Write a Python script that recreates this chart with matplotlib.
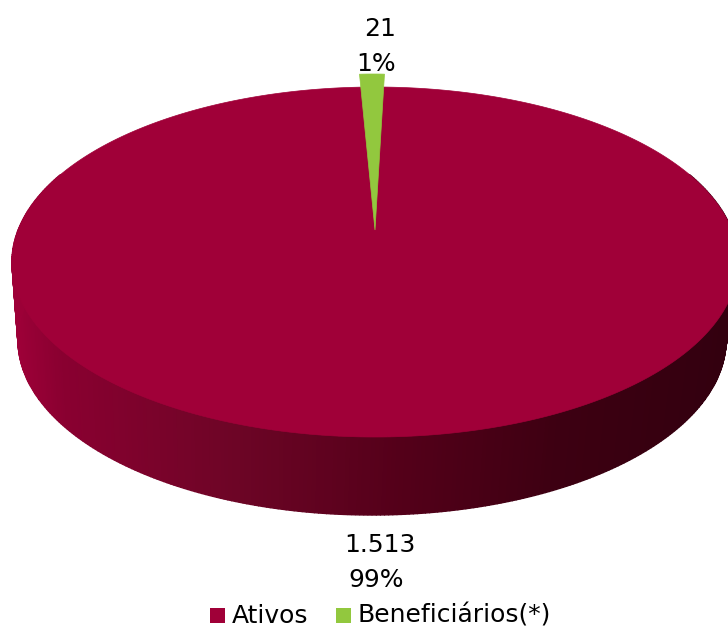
import numpy as np
import matplotlib
matplotlib.use('Agg')
import matplotlib.pyplot as plt
from matplotlib.patches import Rectangle, Polygon

plt.rcParams['font.family'] = ['DejaVu Sans']

# Dados
categorias = ['Ativos', 'Beneficiários(*)']
valores = [1513, 21]
rotulos_valor = ['1.513', '21']
rotulos_pct = ['99%', '1%']
cores = ['#A00038', '#92C83E']

# geometria do disco em pixels
cx, cy = 375, 262
a, b = 363, 175
cx2, cy2, a2, b2 = 372, 340, 354, 175  # base, um pouco menor (perspectiva)
apice = (375, 230)
explode_verde = 13
estreita_verde = 0.8

fig = plt.figure(figsize=(7.28, 6.28), dpi=100)
ax = fig.add_axes([0, 0, 1, 1])
ax.set_xlim(0, 728)
ax.set_ylim(628, 0)
ax.axis('off')


def borda(t):
    # t em graus, sentido horario a partir do topo
    t = np.radians(t)
    return cx + a * np.sin(t), cy - b * np.cos(t)


def base(t):
    t = np.radians(t)
    return cx2 + a2 * np.sin(t), cy2 - b2 * np.cos(t)


fatias = np.array(valores) / sum(valores) * 360
ini_verde = -fatias[1] / 2 - 0.2
fim_verde = ini_verde + fatias[1]

# lateral com degrade (esquerda -> direita)
paradas_x = [12, 60, 230, 400, 560, 728]
paradas_c = [(0.62, 0.0, 0.22), (0.54, 0.0, 0.19), (0.43, 0.02, 0.15),
             (0.33, 0.0, 0.10), (0.24, 0.0, 0.07), (0.20, 0.0, 0.06)]
ts = np.linspace(60, 300, 361)
for t0, t1 in zip(ts[:-1], ts[1:]):
    x0, y0 = borda(t0)
    x1, y1 = borda(t1)
    x2, y2 = base(t1)
    x3, y3 = base(t0)
    xm = (x0 + x1) / 2
    cor = [np.interp(xm, paradas_x, [c[i] for c in paradas_c]) for i in range(3)]
    ax.add_patch(Polygon([(x0, y0), (x1, y1), (x2, y2), (x3, y3)],
                         closed=True, fc=cor, ec=cor, lw=1.0))

# face superior: Ativos (disco inteiro, a fatia verde fica por cima)
t = np.linspace(0, 360, 400)
xs, ys = borda(t)
ax.add_patch(Polygon(np.column_stack([xs, ys]), closed=True, fc=cores[0], ec=cores[0], lw=0.5))

# fatia Beneficiarios, um pouco destacada para cima
t = np.linspace(ini_verde, fim_verde, 20)
xs, ys = borda(t)
xs = apice[0] + (xs - apice[0]) * estreita_verde - 2
pts = np.column_stack([np.r_[apice[0], xs], np.r_[apice[1], ys - explode_verde]])
ax.add_patch(Polygon(pts, closed=True, fc=cores[1], ec=cores[1], lw=0.5))

# rotulos
fs = 18
ax.text(380, 36, rotulos_valor[1], ha='center', va='baseline', fontsize=fs, color='black')
ax.text(376, 71, rotulos_pct[1], ha='center', va='baseline', fontsize=fs, color='black')
ax.text(380, 552, rotulos_valor[0], ha='center', va='baseline', fontsize=fs, color='black')
ax.text(376, 587, rotulos_pct[0], ha='center', va='baseline', fontsize=fs, color='black')

# legenda
ax.add_patch(Rectangle((210, 608), 15, 15, fc=cores[0], ec='none'))
ax.text(232, 623, categorias[0], ha='left', va='baseline', fontsize=fs, color='black')
ax.add_patch(Rectangle((336, 608), 15, 15, fc=cores[1], ec='none'))
ax.text(358, 623, categorias[1], ha='left', va='baseline', fontsize=fs, color='black')

fig.savefig('out.png', dpi=100)
